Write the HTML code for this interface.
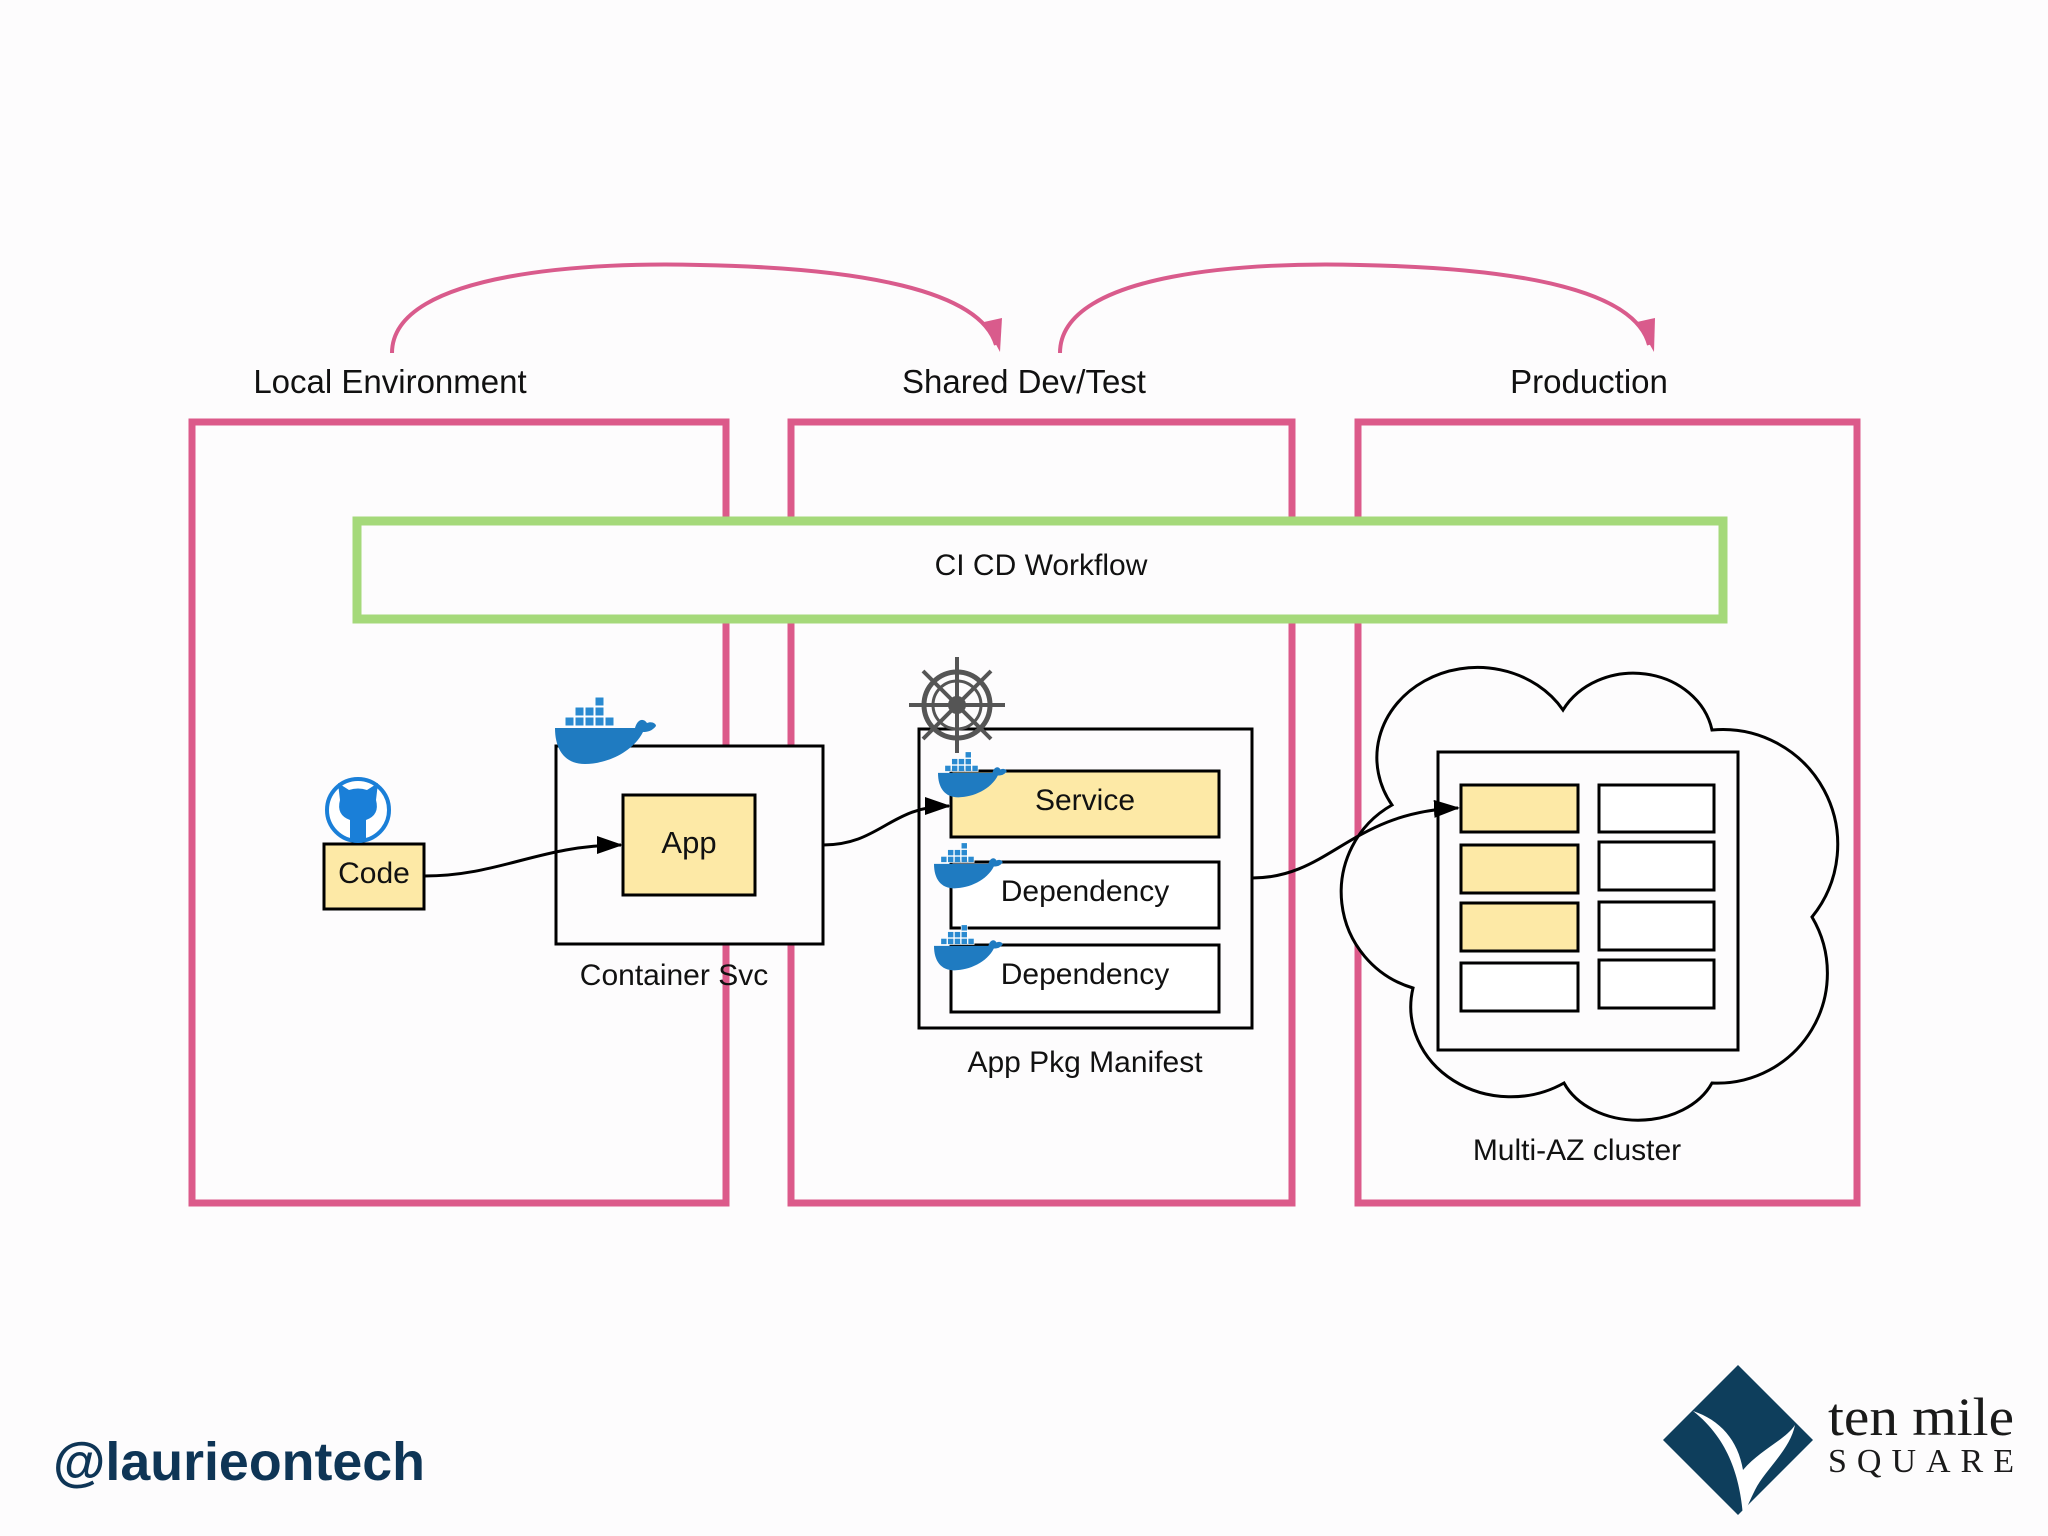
<!DOCTYPE html>
<html><head><meta charset="utf-8"><style>
html,body{margin:0;padding:0;background:#fdfcfd;}
svg{display:block;}
.s{font-family:"Liberation Sans",sans-serif;}
.r{font-family:"Liberation Serif",serif;}
</style></head><body>
<svg width="2048" height="1536" viewBox="0 0 2048 1536" xmlns="http://www.w3.org/2000/svg">
<defs>
<marker id="ah" markerWidth="26" markerHeight="18" refX="24" refY="9" orient="auto" markerUnits="userSpaceOnUse" viewBox="0 0 26 18">
<path d="M0,0 L26,9 L0,18 Z" fill="#000"/></marker>
<g id="whale">
<path d="M0,38 L80,38 C82,30 88,27 92,33 C96,31 101,33 101,36 C97,41 93,42 88,42 C78,62 52,74 30,74 C10,74 0,60 0,38 Z" fill="#1f7bc1"/>
<g fill="#2a8ad0" stroke="#fff" stroke-width="1">
<rect x="10" y="27" width="9" height="9"/><rect x="20" y="27" width="9" height="9"/><rect x="30" y="27" width="9" height="9"/><rect x="40" y="27" width="9" height="9"/><rect x="50" y="27" width="9" height="9"/>
<rect x="20" y="17" width="9" height="9"/><rect x="30" y="17" width="9" height="9"/><rect x="40" y="17" width="9" height="9"/>
<rect x="40" y="7" width="9" height="9"/></g>
</g>
</defs>
<rect width="2048" height="1536" fill="#fdfcfd"/>

<path d="M392,353 C392,270 600,262 700,265 C860,268 980,290 996,345" fill="none" stroke="#d95b8c" stroke-width="4"/>
<path d="M984,322 L1000,352 L1002,318 Z" fill="#d95b8c"/>
<path d="M1060,353 C1060,270 1260,262 1360,265 C1520,268 1635,290 1649,345" fill="none" stroke="#d95b8c" stroke-width="4"/>
<path d="M1637,322 L1654,352 L1655,318 Z" fill="#d95b8c"/>

<g class="s" fill="#111" text-anchor="middle" font-size="33">
<text x="390" y="393">Local Environment</text>
<text x="1024" y="393">Shared Dev/Test</text>
<text x="1589" y="393">Production</text>
</g>

<g fill="none" stroke="#dc5a8a" stroke-width="7">
<rect x="192" y="422" width="534" height="781"/>
<rect x="791" y="422" width="501" height="781"/>
<rect x="1358" y="422" width="499" height="781"/>
</g>

<rect x="357" y="521" width="1366" height="98" fill="#fdfcfd" stroke="#a5d97a" stroke-width="9"/>
<text class="s" x="1041" y="575" font-size="30" text-anchor="middle" fill="#111">CI CD Workflow</text>

<rect x="556" y="746" width="267" height="198" fill="#fdfcfd" stroke="#000" stroke-width="3"/>
<use href="#whale" transform="translate(555,690)"/>
<rect x="623" y="795" width="132" height="100" fill="#fde9a6" stroke="#000" stroke-width="3"/>
<text class="s" x="689" y="853" font-size="31" text-anchor="middle" fill="#111">App</text>
<rect x="324" y="844" width="100" height="65" fill="#fde9a6" stroke="#000" stroke-width="3"/>
<text class="s" x="374" y="883" font-size="30" text-anchor="middle" fill="#111">Code</text>
<circle cx="358" cy="810" r="31" fill="#fff" stroke="#1a7fd8" stroke-width="4"/>
<path d="M340,800 L338,783 L349,790 Q358,787 367,790 L378,783 L376,800 Q380,815 366,820 L366,842 L350,842 L350,820 Q336,815 340,800 Z" fill="#1a7fd8"/>
<text class="s" x="674" y="985" font-size="30" text-anchor="middle" fill="#111">Container Svc</text>

<path d="M424,876 C500,876 540,845 621,845" fill="none" stroke="#000" stroke-width="3" marker-end="url(#ah)"/>

<rect x="919" y="729" width="333" height="299" fill="#fdfcfd" stroke="#000" stroke-width="3"/>
<rect x="951" y="771" width="268" height="66" fill="#fde9a6" stroke="#000" stroke-width="3"/>
<rect x="951" y="862" width="268" height="66" fill="#fff" stroke="#000" stroke-width="3"/>
<rect x="951" y="945" width="268" height="67" fill="#fff" stroke="#000" stroke-width="3"/>
<g class="s" font-size="30" text-anchor="middle" fill="#111">
<text x="1085" y="810">Service</text>
<text x="1085" y="901">Dependency</text>
<text x="1085" y="984">Dependency</text>
</g>
<use href="#whale" transform="translate(938,747) scale(0.68)"/>
<use href="#whale" transform="translate(934,838) scale(0.68)"/>
<use href="#whale" transform="translate(934,920) scale(0.68)"/>
<g stroke="#555" fill="none">
<circle cx="957" cy="705" r="33" stroke-width="5"/>
<circle cx="957" cy="705" r="24" stroke-width="3"/>
<circle cx="957" cy="705" r="7" stroke-width="4"/>
<g stroke-width="4">
<line x1="957" y1="657" x2="957" y2="753"/><line x1="909" y1="705" x2="1005" y2="705"/>
<line x1="923" y1="671" x2="991" y2="739"/><line x1="991" y1="671" x2="923" y2="739"/>
</g></g>
<text class="s" x="1085" y="1072" font-size="30" text-anchor="middle" fill="#111">App Pkg Manifest</text>

<path d="M823,845 C880,845 890,806 949,806" fill="none" stroke="#000" stroke-width="3" marker-end="url(#ah)"/>

<path d="M1392,805 A95 85 0 0 1 1563,710 A80 70 0 0 1 1712,730 A115 115 0 0 1 1812,917 A110 110 0 0 1 1712,1083 A80 60 0 0 1 1564,1083 A100 90 0 0 1 1413,988 A100 100 0 0 1 1392,805 Z" fill="#fdfcfd" stroke="#000" stroke-width="3"/>
<rect x="1438" y="752" width="300" height="298" fill="#fdfcfd" stroke="#000" stroke-width="3"/>
<g stroke="#000" stroke-width="3">
<rect x="1461" y="785" width="117" height="47" fill="#fde9a6"/>
<rect x="1461" y="845" width="117" height="48" fill="#fde9a6"/>
<rect x="1461" y="903" width="117" height="48" fill="#fde9a6"/>
<rect x="1461" y="963" width="117" height="48" fill="#fff"/>
<rect x="1599" y="785" width="115" height="47" fill="#fff"/>
<rect x="1599" y="842" width="115" height="48" fill="#fff"/>
<rect x="1599" y="902" width="115" height="48" fill="#fff"/>
<rect x="1599" y="960" width="115" height="48" fill="#fff"/>
</g>
<path d="M1252,878 C1330,878 1350,812 1458,808" fill="none" stroke="#000" stroke-width="3" marker-end="url(#ah)"/>
<text class="s" x="1577" y="1160" font-size="30" text-anchor="middle" fill="#111">Multi-AZ cluster</text>

<text class="s" x="53" y="1480" font-size="54" font-weight="bold" fill="#0e3556" textLength="372" lengthAdjust="spacingAndGlyphs">@laurieontech</text>
<path d="M1738,1365 L1813,1440 L1738,1515 L1663,1440 Z" fill="#0e3e5c"/>
<path d="M1693,1411 C1720,1420 1738,1440 1743,1470 C1760,1450 1785,1440 1795,1425 C1790,1450 1765,1470 1755,1490 C1750,1500 1746,1510 1743,1515 C1740,1480 1730,1440 1693,1411 Z" fill="#fff"/>
<text class="r" x="1828" y="1435" font-size="54" fill="#1a1a1a" textLength="186" lengthAdjust="spacingAndGlyphs">ten mile</text>
<text class="r" x="1828" y="1472" font-size="34" fill="#1a1a1a" textLength="186" lengthAdjust="spacing">SQUARE</text>
</svg>
</body></html>
